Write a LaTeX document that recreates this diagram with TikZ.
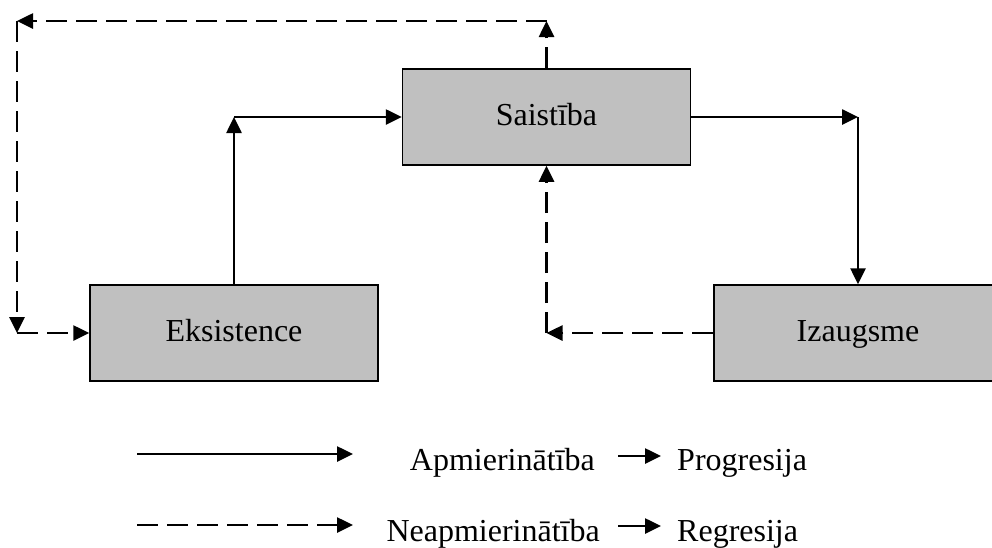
\documentclass[tikz,border=0pt]{standalone}
\usepackage{fontspec}
\setmainfont{Liberation Serif}
\usetikzlibrary{arrows.meta}
\definecolor{boxgray}{HTML}{C0C0C0}
\tikzset{
  box/.style={draw=black, line width=1.5pt, fill=boxgray, minimum width=288pt, minimum height=96pt,
    inner sep=0pt, text height=24pt, text depth=7pt, font=\fontsize{32}{38}\selectfont},
  lbl/.style={inner sep=0pt, font=\fontsize{32}{38}\selectfont},
  sarrow/.style={line width=2.6pt, -{Triangle[length=16pt,width=15pt]}},
  darrow/.style={line width=2.6pt, dash pattern=on 21pt off 9pt, -{Triangle[length=16pt,width=15pt]}},
}
\begin{document}
\begin{tikzpicture}[x=1pt,y=-1pt]
\useasboundingbox (0,0) rectangle (992,547);
\begin{scope}
\clip (0,0) rectangle (992,547);
\node[box] (sai) at (546.5,117) {Saistība};
\node[box] (eks) at (234,333) {Eksistence};
\node[box] (iza) at (858,333) {Izaugsme};

% solid path
\coordinate (c1) at (234,117);
\coordinate (c2) at (858,117);
\draw[sarrow] (eks.north -| c1) -- (c1);
\draw[sarrow] (c1) -- (sai.west |- c1);
\draw[sarrow] (sai.east |- c2) -- (c2);
\draw[sarrow] (c2) -- (iza.north -| c2);

% dashed from Izaugsme to Saistiba
\coordinate (c3) at (546.5,333);
\draw[darrow] (iza.west |- c3) -- (c3);
\draw[darrow] (c3) -- (sai.south -| c3);

% dashed from Saistiba to Eksistence
\coordinate (c4) at (546.5,21);
\coordinate (c5) at (17,21);
\coordinate (c6) at (17,333);
\draw[darrow] (sai.north -| c4) -- (c4);
\draw[darrow] (c4) -- (c5);
\draw[darrow] (c5) -- (c6);
\draw[darrow] (c6) -- (eks.west |- c6);

% legend
\coordinate (la1) at (137,454);
\coordinate (la2) at (353,454);
\coordinate (lb1) at (137,525);
\coordinate (lb2) at (353,525);
\draw[sarrow] (la1) -- (la2);
\draw[darrow] (lb1) -- (lb2);
\node[lbl, anchor=base east] (t1) at (595,470) {Apmierinātība};
\node[lbl, anchor=base east] (t2) at (600,541) {Neapmierinātība};
\node[lbl, anchor=base west] (t3) at (677,470) {Progresija};
\node[lbl, anchor=base west] (t4) at (677,541) {Regresija};
\coordinate (sa1) at (618,456);
\coordinate (sa2) at (661,456);
\coordinate (sb1) at (618,526);
\coordinate (sb2) at (661,526);
\draw[sarrow] (sa1) -- (sa2);
\draw[sarrow] (sb1) -- (sb2);
\end{scope}
\end{tikzpicture}
\end{document}
